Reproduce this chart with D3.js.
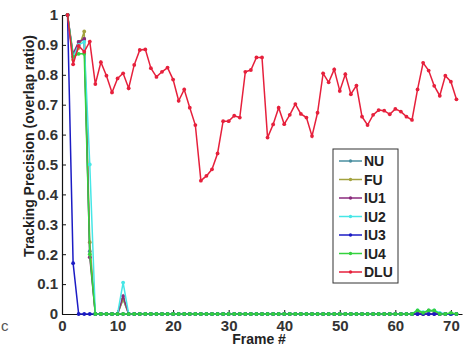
<!DOCTYPE html>
<html>
<head>
<meta charset="utf-8">
<script src="https://cdn.jsdelivr.net/npm/d3@7"></script>
<style>
  body { margin: 0; background: #fff; }
  svg { display: block; font-family: "Liberation Sans", Arial, sans-serif; }
</style>
</head>
<body>
<svg width="467" height="347"></svg>
<script>
const width = 467;
const height = 347;
const margin = { left: 62, right: 5, top: 15, bottom: 33 };

const names = ["NU", "FU", "IU1", "IU2", "IU3", "IU4", "DLU"];
const colors = ["#4a8fa0", "#a3a23e", "#8a2a7c", "#46e6e6", "#1c1cc4", "#34d23e", "#e6203c"];

// one value per frame, frames 1..71
const nu = [
  1, 0.86, 0.91, 0.92, 0.21, 0, 0, 0, 0, 0,
  0.05, 0, 0, 0, 0, 0, 0, 0, 0, 0,
  0, 0, 0, 0, 0, 0, 0, 0, 0, 0,
  0, 0, 0, 0, 0, 0, 0, 0, 0, 0,
  0, 0, 0, 0, 0, 0, 0, 0, 0, 0,
  0, 0, 0, 0, 0, 0, 0, 0, 0, 0,
  0, 0, 0, 0.01, 0.004, 0.012, 0.01, 0, 0, 0,
  0
];
const fu = [
  1, 0.85, 0.89, 0.945, 0.24, 0, 0, 0, 0, 0,
  0.05, 0, 0, 0, 0, 0, 0, 0, 0, 0,
  0, 0, 0, 0, 0, 0, 0, 0, 0, 0,
  0, 0, 0, 0, 0, 0, 0, 0, 0, 0,
  0, 0, 0, 0, 0, 0, 0, 0, 0, 0,
  0, 0, 0, 0, 0, 0, 0, 0, 0, 0,
  0, 0, 0, 0.008, 0, 0.01, 0.008, 0, 0, 0,
  0
];
const iu1 = [
  1, 0.87, 0.91, 0.92, 0.19, 0, 0, 0, 0, 0,
  0.06, 0, 0, 0, 0, 0, 0, 0, 0, 0,
  0, 0, 0, 0, 0, 0, 0, 0, 0, 0,
  0, 0, 0, 0, 0, 0, 0, 0, 0, 0,
  0, 0, 0, 0, 0, 0, 0, 0, 0, 0,
  0, 0, 0, 0, 0, 0, 0, 0, 0, 0,
  0, 0, 0, 0, 0, 0, 0, 0, 0, 0,
  0
];
const iu2 = [
  1, 0.86, 0.9, 0.91, 0.5, 0, 0, 0, 0, 0,
  0.105, 0, 0, 0, 0, 0, 0, 0, 0, 0,
  0, 0, 0, 0, 0, 0, 0, 0, 0, 0,
  0, 0, 0, 0, 0, 0, 0, 0, 0, 0,
  0, 0, 0, 0, 0, 0, 0, 0, 0, 0,
  0, 0, 0, 0, 0, 0, 0, 0, 0, 0,
  0, 0, 0, 0.012, 0.006, 0.01, 0.012, 0.004, 0, 0,
  0
];
const iu3 = [
  1, 0.17, 0, 0, 0, 0, 0, 0, 0, 0,
  0, 0, 0, 0, 0, 0, 0, 0, 0, 0,
  0, 0, 0, 0, 0, 0, 0, 0, 0, 0,
  0, 0, 0, 0, 0, 0, 0, 0, 0, 0,
  0, 0, 0, 0, 0, 0, 0, 0, 0, 0,
  0, 0, 0, 0, 0, 0, 0, 0, 0, 0,
  0, 0, 0, 0, 0, 0, 0, 0, 0, 0,
  0
];
const iu4 = [
  1, 0.86, 0.87, 0.87, 0.2, 0, 0, 0, 0, 0,
  0, 0, 0, 0, 0, 0, 0, 0, 0, 0,
  0, 0, 0, 0, 0, 0, 0, 0, 0, 0,
  0, 0, 0, 0, 0, 0, 0, 0, 0, 0,
  0, 0, 0, 0, 0, 0, 0, 0, 0, 0,
  0, 0, 0, 0, 0, 0, 0, 0, 0, 0,
  0, 0, 0, 0.012, 0.004, 0.012, 0.012, 0, 0, 0.004,
  0
];
const dlu = [
  1, 0.835, 0.897, 0.877, 0.911, 0.769, 0.842, 0.797, 0.741, 0.788,
  0.805, 0.755, 0.833, 0.883, 0.885, 0.822, 0.793, 0.81, 0.824, 0.784,
  0.713, 0.751, 0.69, 0.632, 0.446, 0.462, 0.484, 0.537, 0.645, 0.645,
  0.663, 0.657, 0.81, 0.816, 0.858, 0.858, 0.59, 0.634, 0.69, 0.635,
  0.666, 0.702, 0.669, 0.657, 0.595, 0.673, 0.805, 0.775, 0.818, 0.746,
  0.802, 0.735, 0.764, 0.66, 0.632, 0.666, 0.682, 0.68, 0.668, 0.686,
  0.677, 0.66, 0.649, 0.751, 0.84, 0.814, 0.763, 0.73, 0.797, 0.777,
  0.718
];

const xTicks = [0, 10, 20, 30, 40, 50, 60, 70];
const yTicks = [0, 0.1, 0.2, 0.3, 0.4, 0.5, 0.6, 0.7, 0.8, 0.9, 1];
const yTickLabels = ["0", "0.1", "0.2", "0.3", "0.4", "0.5", "0.6", "0.7", "0.8", "0.9", "1"];

const series = [nu, fu, iu1, iu2, iu3, iu4, dlu].map((vals, i) => ({
  name: names[i],
  color: colors[i],
  values: vals.map((v, j) => ({ frame: j + 1, v: v }))
}));

const xScale = d3.scaleLinear().domain([0, 72]).range([margin.left, width - margin.right]);
const yScale = d3.scaleLinear().domain([0, 1]).range([height - margin.bottom - 0, margin.top]);

const svg = d3.select("svg");

// stray letter from the neighbouring panel
svg.append("text").attr("x", 1).attr("y", 331)
  .attr("font-size", 15).attr("fill", "#555").text("c");

// axes (drawn first so the series sit on top of the baseline)
const xAxis = svg.append("g")
  .attr("transform", `translate(0,${yScale(0)})`)
  .call(d3.axisBottom(xScale).tickValues(xTicks).tickSizeInner(-4).tickSizeOuter(0).tickPadding(6));

const yAxis = svg.append("g")
  .attr("transform", `translate(${margin.left},0)`)
  .call(d3.axisLeft(yScale).tickValues(yTicks).tickFormat((d, i) => yTickLabels[i])
    .tickSizeInner(-4).tickSizeOuter(0).tickPadding(4));

[xAxis, yAxis].forEach((a) => {
  a.select(".domain").attr("stroke", "#111").attr("stroke-width", 1.2);
  a.selectAll(".tick line").attr("stroke", "#111");
  a.selectAll(".tick text")
    .attr("font-size", 15)
    .attr("font-weight", "bold")
    .attr("fill", "#333")
    .attr("font-family", "Liberation Sans, Arial, sans-serif");
});

const line = d3.line().x((d) => xScale(d.frame)).y((d) => yScale(d.v));

const plots = svg.append("g").selectAll("g").data(series).join("g");

plots.append("path")
  .attr("d", (d) => line(d.values))
  .attr("fill", "none")
  .attr("stroke", (d) => d.color)
  .attr("stroke-width", 1.5);

plots.selectAll("circle")
  .data((d) => d.values.map((p) => ({ ...p, color: d.color })))
  .join("circle")
  .attr("cx", (d) => xScale(d.frame))
  .attr("cy", (d) => yScale(d.v))
  .attr("r", 1.9)
  .attr("fill", (d) => d.color);

svg.append("text")
  .attr("x", 259).attr("y", 344)
  .attr("text-anchor", "middle")
  .attr("font-size", 14).attr("font-weight", "bold").attr("fill", "#222")
  .text("Frame #");

svg.append("text")
  .attr("transform", "translate(34,146) rotate(-90)")
  .attr("text-anchor", "middle")
  .attr("font-size", 14).attr("font-weight", "bold").attr("fill", "#222")
  .text("Tracking Precision (overlap ratio)");

// legend
const legend = svg.append("g").attr("transform", "translate(333,149)");
legend.append("rect")
  .attr("width", 65).attr("height", 134)
  .attr("fill", "#fff").attr("stroke", "#333").attr("stroke-width", 1);

const items = legend.selectAll("g.item").data(series).join("g")
  .attr("class", "item")
  .attr("transform", (d, i) => `translate(0,${12 + i * 18.5})`);

items.append("line")
  .attr("x1", 6).attr("x2", 29)
  .attr("stroke", (d) => d.color).attr("stroke-width", 1.5);
items.append("circle")
  .attr("cx", 17.5).attr("r", 1.7).attr("fill", (d) => d.color);
items.append("text")
  .attr("x", 31).attr("dy", "0.36em")
  .attr("font-size", 14).attr("font-weight", "bold").attr("fill", "#222")
  .text((d) => d.name);
</script>
</body>
</html>
